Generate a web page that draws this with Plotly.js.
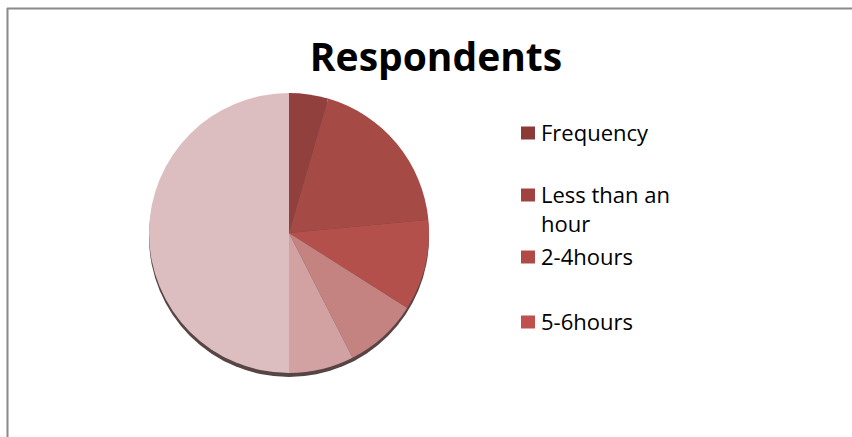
<!DOCTYPE html>
<html>
<head>
<meta charset="utf-8">
<script src="https://cdn.plot.ly/plotly-3.0.1.min.js"></script>
<style>
  html, body { margin: 0; padding: 0; background: #ffffff; }
  #chart { width: 852px; height: 437px; }
</style>
</head>
<body>
<div id="chart"></div>
<script>
// Survey responses: hours spent per day
const labels = ["Frequency", "Less than an hour", "2-4hours", "5-6hours", "Above 6hours", "Total"];
const respondents = [9, 38, 21, 17, 15, 100];
// Only the first entries fit in the legend box
const legendCount = 4;

// Styles
const sliceColors = ["#92403E", "#A64A46", "#B4504C", "#C48280", "#D2A2A2", "#DDBEC0"];
const swatchColors = ["#8B3A38", "#A04340", "#B04A47", "#C0504D"];
const W = 852, H = 437;
const cx = 289, cy = 233, r = 140;          // pie centre / radius in px
const px = x => x / W;
const py = y => 1 - y / H;

function wrap(text, maxChars) {
  const words = text.split(" ");
  const lines = [];
  let cur = "";
  words.forEach(w => {
    const next = cur ? cur + " " + w : w;
    if (next.length > maxChars && cur) { lines.push(cur); cur = w; }
    else cur = next;
  });
  if (cur) lines.push(cur);
  return lines;
}

const total = respondents.reduce((a, b) => a + b, 0);

const traces = [
  // soft shadow under the pie
  {
    type: "pie",
    values: [total],
    labels: ["shadow"],
    marker: { colors: ["rgba(78,58,58,0.95)"], line: { width: 0 } },
    textinfo: "none",
    hoverinfo: "skip",
    showlegend: false,
    sort: false,
    domain: { x: [px(cx - r), px(cx + r)], y: [py(cy + r + 4), py(cy - r + 4)] }
  },
  {
    type: "pie",
    values: respondents,
    labels: labels,
    marker: { colors: sliceColors, line: { width: 0 } },
    textinfo: "none",
    sort: false,
    direction: "clockwise",
    rotation: 0,
    showlegend: false,
    domain: { x: [px(cx - r), px(cx + r)], y: [py(cy + r), py(cy - r)] }
  }
];

const legendFont = { family: "'Open Sans', sans-serif", size: 22, color: "#000000" };
const rowCentres = [133, 195, 257, 322];
const shapes = [
  // chart frame
  { type: "line", xref: "paper", yref: "paper", x0: px(7.5), x1: px(7.5), y0: py(8), y1: 0,
    line: { color: "#8a8a8a", width: 2 } },
  { type: "line", xref: "paper", yref: "paper", x0: px(7), x1: 1, y0: py(8.5), y1: py(8.5),
    line: { color: "#8a8a8a", width: 2 } }
];
const annotations = [];
labels.slice(0, legendCount).forEach((lab, i) => {
  const yc = rowCentres[i];
  shapes.push({
    type: "rect", xref: "paper", yref: "paper",
    x0: px(521), x1: px(535), y0: py(yc - 6.5), y1: py(yc + 6.5),
    fillcolor: swatchColors[i], line: { width: 0 }
  });
  const lines = wrap(lab, 12);
  annotations.push({
    xref: "paper", yref: "paper", x: px(539), y: py(yc - 18),
    xanchor: "left", yanchor: "top", align: "left",
    text: lines.join("<br>"), showarrow: false, font: legendFont
  });
});

const layout = {
  width: W, height: H,
  margin: { l: 0, r: 0, t: 0, b: 0 },
  paper_bgcolor: "#ffffff",
  title: {
    text: "<b>Respondents</b>",
    x: px(436), xanchor: "center",
    y: py(57), yanchor: "middle",
    font: { family: "'Open Sans', sans-serif", size: 39, color: "#000000" }
  },
  showlegend: false,
  shapes: shapes,
  annotations: annotations
};

Plotly.newPlot("chart", traces, layout, { displayModeBar: false, staticPlot: true });
</script>
</body>
</html>
